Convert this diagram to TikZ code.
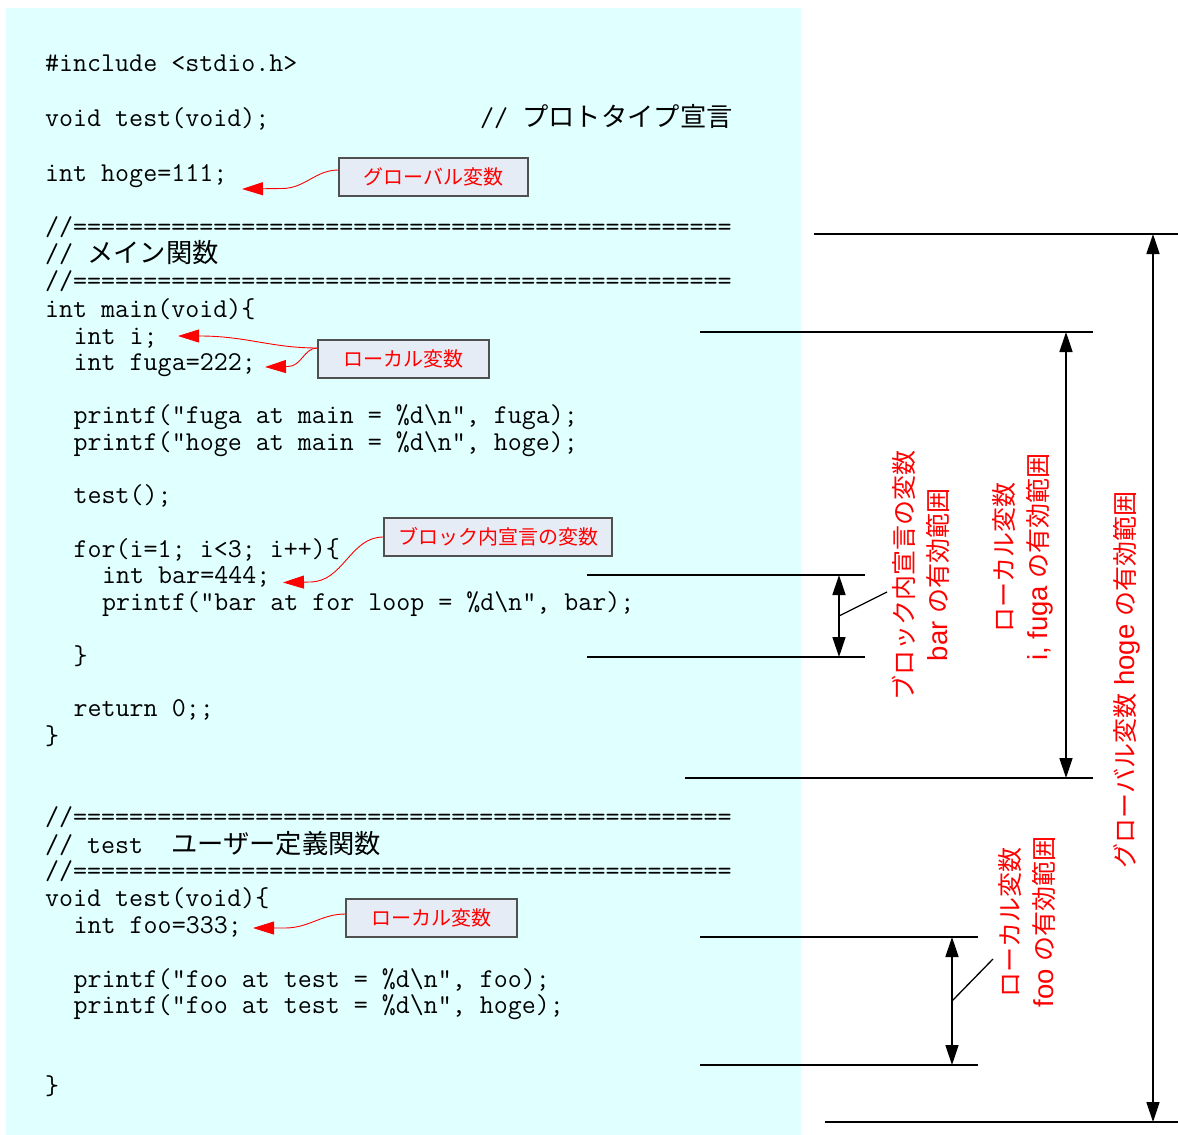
\documentclass[tikz,border=0pt]{standalone}
\usepackage{fontspec}
\newfontfamily\cjk{Noto Sans CJK JP}
\newfontfamily\lab{Liberation Sans}[Scale=1.1]
\usetikzlibrary{arrows.meta,calc}
\definecolor{codebg}{RGB}{224,255,255}
\definecolor{notefill}{RGB}{230,236,246}
\definecolor{noteedge}{RGB}{80,80,80}
\newcommand{\jp}[1]{{\cjk #1}}
\newcommand{\cjkcode}[1]{{\cjk\fontsize{26.3}{27}\selectfont #1}}
\newcommand{\bs}{\textbackslash}
\begin{document}
\begin{tikzpicture}[x=1pt,y=-1pt,
  codeline/.style={font=\ttfamily\fontsize{27.2}{27}\selectfont, inner sep=0pt, anchor=base west},
  notebox/.style={draw=noteedge, line width=1.2pt, fill=notefill, text=red,
    font=\cjk\fontsize{20}{24}\selectfont, inner sep=0pt, minimum height=38pt},
  calloutarrow/.style={red, line width=0.9pt, -{Triangle[length=21pt,width=13pt]}},
  extline/.style={line width=1.5pt},
  leaderline/.style={line width=1.3pt},
  dimarrow/.style={line width=1.5pt, {Triangle[length=20pt,width=13pt]}-{Triangle[length=20pt,width=13pt]}},
  scopelabel/.style={text=red, font=\lab\fontsize{25}{34}\selectfont, rotate=90, align=center, inner sep=0pt}
]
\useasboundingbox (0,0) rectangle (1178,1135);
% code panel
\fill[codebg] (6,8) rectangle (801,1135);

% source listing, one node per line (column width 14.28)
\node[codeline] (c0)  at (45,71)     {\#include <stdio.h>};
\node[codeline] (c2)  at (45,126.3)  {void test(void);};
\node[codeline] (c2c) at (480,126.3) {// \cjkcode{プロトタイプ宣言}};
\node[codeline] (c4)  at (45,181)    {int hoge=111;};
\node[codeline] (c6)  at (45,235.5)  {//===============================================};
\node[codeline] (c7)  at (45,262.5)  {// \cjkcode{メイン関数}};
\node[codeline] (c8)  at (45,289.5)  {//===============================================};
\node[codeline] (c9)  at (45,317)    {int main(void)\{};
\node[codeline] (c10) at (73.5,344)  {int i;};
\node[codeline] (c11) at (73.5,370.5) {int fuga=222;};
\node[codeline] (c13) at (73.5,423.5) {printf("fuga at main = \%d\bs n", fuga);};
\node[codeline] (c14) at (73.5,450)  {printf("hoge at main = \%d\bs n", hoge);};
\node[codeline] (c16) at (73.5,503.5) {test();};
\node[codeline] (c18) at (73.5,557)  {for(i=1; i<3; i++)\{};
\node[codeline] (c19) at (102,583.5) {int bar=444;};
\node[codeline] (c20) at (102,610.5) {printf("bar at for loop = \%d\bs n", bar);};
\node[codeline] (c22) at (73.5,664.3) {\}};
\node[codeline] (c24) at (73.5,716.5) {return 0;;};
\node[codeline] (c25) at (45,744)    {\}};
\node[codeline] (c28) at (45,825.5)  {//===============================================};
\node[codeline] (c29) at (45,853)    {// test~~\cjkcode{ユーザー定義関数}};
\node[codeline] (c30) at (45,879.5)  {//===============================================};
\node[codeline] (c31) at (45,906.5)  {void test(void)\{};
\node[codeline] (c32) at (73.5,933.5) {int foo=333;};
\node[codeline] (c34) at (73.5,987)  {printf("foo at test = \%d\bs n", foo);};
\node[codeline] (c35) at (73.5,1013.5) {printf("foo at test = \%d\bs n", hoge);};
\node[codeline] (c38) at (45,1094.5) {\}};

% callout boxes
\node[notebox, minimum width=189pt] (g1) at (433.5,177) {グローバル変数};
\node[notebox, minimum width=171pt] (l1) at (403.5,359) {ローカル変数};
\node[notebox, minimum width=228pt] (b1) at (498,537)   {ブロック内宣言の変数};
\node[notebox, minimum width=171pt] (l2) at (431.5,918) {ローカル変数};

% callout arrows
\coordinate (tHoge) at (242,189);
\coordinate (tI)    at (178,336);
\coordinate (tFuga) at (265,367);
\coordinate (tBar)  at (283,582.5);
\coordinate (tFoo)  at (253,928);
\draw[calloutarrow] ($(g1.west)+(0,-7)$) to[out=180,in=0] (282,188.5) -- (tHoge);
\draw[calloutarrow] ($(l1.west)+(0,-11)$) to[out=180,in=0] (200,336) -- (tI);
\draw[calloutarrow] ($(l1.west)+(0,-11)$) to[out=180,in=0] (288,366.5) -- (tFuga);
\draw[calloutarrow] (b1.west) to[out=180,in=0] (310,582) -- (tBar);
\draw[calloutarrow] ($(l2.west)+(0,-4)$) to[out=180,in=0] (285,928) -- (tFoo);

% scope of bar
\coordinate (bA) at (587,575);  \coordinate (bB) at (865,575);
\coordinate (bC) at (587,657);  \coordinate (bD) at (865,657);
\coordinate (bU) at (839,575);  \coordinate (bL) at (839,657);
\draw[extline] (bA) -- (bB);
\draw[extline] (bC) -- (bD);
\draw[dimarrow] (bU) -- (bL);
\node[scopelabel] (rb) at (921,575) {\jp{ブロック内宣言の変数}\\bar \jp{の有効範囲}};
\draw[leaderline] (839,616) -- (887,592);

% scope of i, fuga
\coordinate (mA) at (700,332);  \coordinate (mB) at (1093,332);
\coordinate (mC) at (685,778);  \coordinate (mD) at (1093,778);
\coordinate (mU) at (1066,332); \coordinate (mL) at (1066,778);
\draw[extline] (mA) -- (mB);
\draw[extline] (mC) -- (mD);
\draw[dimarrow] (mU) -- (mL);
\node[scopelabel] (rm) at (1023,557) {\jp{ローカル変数}\\i, fuga \jp{の有効範囲}};

% scope of hoge
\coordinate (gA) at (814,234);  \coordinate (gB) at (1178,234);
\coordinate (gC) at (825,1122); \coordinate (gD) at (1178,1122);
\coordinate (gU) at (1153,234); \coordinate (gL) at (1153,1122);
\draw[extline] (gA) -- (gB);
\draw[extline] (gC) -- (gD);
\draw[dimarrow] (gU) -- (gL);
\node[scopelabel] (rg) at (1127,680) {\jp{グローバル変数} hoge \jp{の有効範囲}};

% scope of foo
\coordinate (fA) at (700,937);  \coordinate (fB) at (978,937);
\coordinate (fC) at (700,1065); \coordinate (fD) at (978,1065);
\coordinate (fU) at (952,937);  \coordinate (fL) at (952,1065);
\draw[extline] (fA) -- (fB);
\draw[extline] (fC) -- (fD);
\draw[dimarrow] (fU) -- (fL);
\node[scopelabel] (rf) at (1027,922) {\jp{ローカル変数}\\foo \jp{の有効範囲}};
\draw[leaderline] (952,1001) -- (993,959);
\end{tikzpicture}
\end{document}
